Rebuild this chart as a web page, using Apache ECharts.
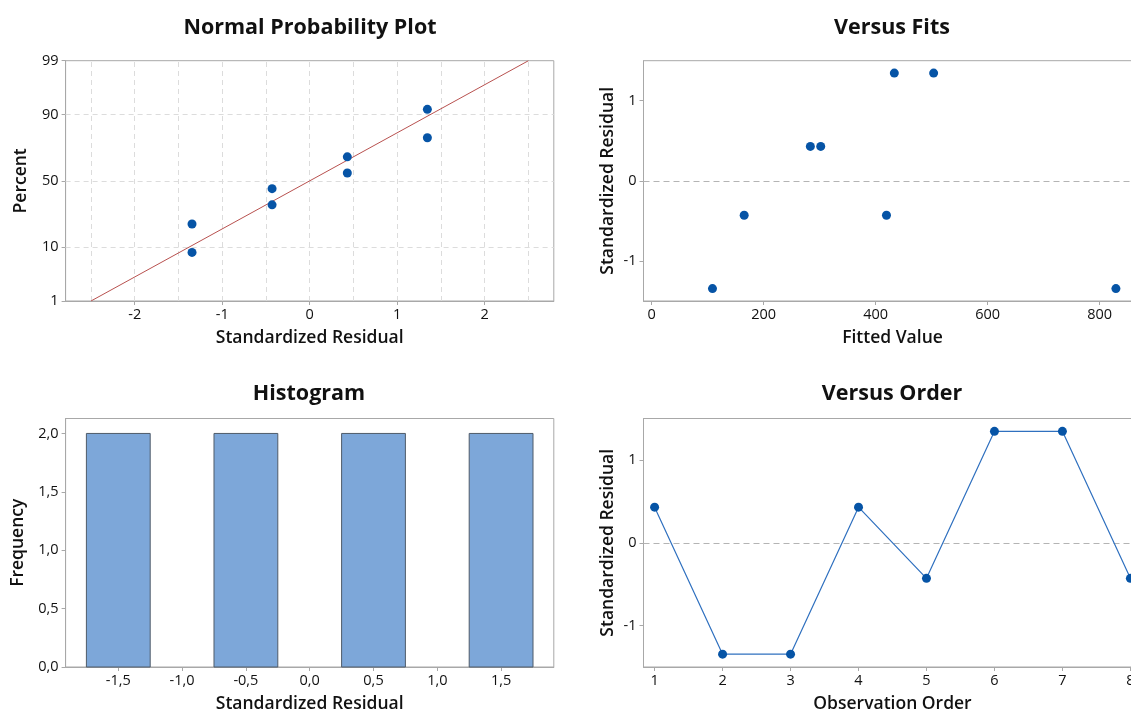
<!DOCTYPE html>
<html>
<head>
<meta charset="utf-8">
<script src="https://cdn.jsdelivr.net/npm/echarts@6/dist/echarts.min.js"></script>
<style>
html,body{margin:0;padding:0;background:#fff;overflow:hidden;width:1131px;height:714px;}
#chart{width:1165px;height:714px;}
</style>
</head>
<body>
<div id="chart"></div>
<script>
// ---------- data ----------
const observationOrder = [1, 2, 3, 4, 5, 6, 7, 8];
const residuals = [0.43, -1.345, -1.345, 0.43, -0.43, 1.345, 1.345, -0.43];
const fittedValues = [283.4, 108.6, 829.0, 301.9, 165.2, 433.3, 503.5, 419.3];

const probResiduals = [-1.345, -1.345, -0.43, -0.43, 0.43, 0.43, 1.345, 1.345];
const probPercents = [8.3, 20.2, 32.1, 44.0, 56.0, 67.9, 79.8, 91.7];
const fitLineResiduals = [-2.5, 2.5];
const fitLinePercents = [1, 99];

const histBinCenters = [-1.5, -1.0, -0.5, 0.0, 0.5, 1.0, 1.5];
const histCounts = [2, 0, 2, 0, 2, 0, 2];
const histBinWidth = 0.5;

// tick labels / grid lines
const nppXTicks = [-2, -1, 0, 1, 2];
const nppXGrid = [-2.5, -2, -1.5, -1, -0.5, 0, 0.5, 1, 1.5, 2, 2.5];
const percentTicks = [1, 10, 50, 90, 99];
const percentGrid = [10, 50, 90];
const fitsXTicks = [0, 200, 400, 600, 800];
const residTicks = [-1, 0, 1];
const histXTicks = [-1.5, -1.0, -0.5, 0.0, 0.5, 1.0, 1.5];
const histYTicks = [0, 0.5, 1.0, 1.5, 2.0];
const orderTicks = [1, 2, 3, 4, 5, 6, 7, 8];

// ---------- normal probability scale ----------
function qnorm(p) {
  const a=[-3.969683028665376e+01,2.209460984245205e+02,-2.759285104469687e+02,1.383577518672690e+02,-3.066479806614716e+01,2.506628277459239e+00];
  const b=[-5.447609879822406e+01,1.615858368580409e+02,-1.556989798598866e+02,6.680131188771972e+01,-1.328068155288572e+01];
  const c=[-7.784894002430293e-03,-3.223964580411365e-01,-2.400758296180111e+00,-2.549732539343734e+00,4.374664141464968e+00,2.938163982698783e+00];
  const d=[7.784695709041462e-03,3.224671290700398e-01,2.445134137142996e+00,3.754408661907416e+00];
  const pl=0.02425, ph=1-pl; let q, r;
  if (p < pl) { q=Math.sqrt(-2*Math.log(p)); return (((((c[0]*q+c[1])*q+c[2])*q+c[3])*q+c[4])*q+c[5])/((((d[0]*q+d[1])*q+d[2])*q+d[3])*q+1); }
  if (p <= ph) { q=p-0.5; r=q*q; return (((((a[0]*r+a[1])*r+a[2])*r+a[3])*r+a[4])*r+a[5])*q/(((((b[0]*r+b[1])*r+b[2])*r+b[3])*r+b[4])*r+1); }
  q=Math.sqrt(-2*Math.log(1-p)); return -(((((c[0]*q+c[1])*q+c[2])*q+c[3])*q+c[4])*q+c[5])/((((d[0]*q+d[1])*q+d[2])*q+d[3])*q+1);
}
const zOf = pct => qnorm(pct / 100);

// ---------- styling ----------
const FONT = 'Open Sans';
const AXC = '#a8a8a8';
const PT = '#0654a6';
const comma1 = v => v.toFixed(1).replace('.', ',');

function axis(gridIndex, min, max, ticks, formatter, name, gap, isY) {
  return {
    type: 'value', gridIndex, min, max, scale: true,
    name, nameLocation: 'middle', nameGap: gap,
    nameTextStyle: { fontFamily: FONT, fontSize: 17.5, fontWeight: 600, color: '#111' },
    axisLine: { show: true, onZero: false, lineStyle: { color: AXC, width: 1 } },
    axisTick: { show: true, length: 4, customValues: ticks, lineStyle: { color: AXC } },
    axisLabel: { show: true, customValues: ticks, formatter, margin: isY ? 7 : 6,
      fontFamily: FONT, fontSize: 14.5, color: '#111' },
    splitLine: { show: false }
  };
}

const gridBase = { show: true, borderColor: AXC, borderWidth: 1, backgroundColor: 'transparent', containLabel: false };

const zTicks = percentTicks.map(zOf);
const zLabel = v => {
  let best = 0, bd = 1e9;
  zTicks.forEach((z, i) => { const dd = Math.abs(z - v); if (dd < bd) { bd = dd; best = i; } });
  return String(percentTicks[best]);
};

const titleStyle = { fontFamily: FONT, fontSize: 21.5, fontWeight: 'bold', fill: '#111', align: 'center', verticalAlign: 'middle' };

const option = {
  animation: false,
  backgroundColor: '#fff',
  textStyle: { fontFamily: FONT },
  graphic: [
    { type: 'text', x: 310, y: 28, style: Object.assign({ text: 'Normal Probability Plot' }, titleStyle) },
    { type: 'text', x: 892, y: 28, style: Object.assign({ text: 'Versus Fits' }, titleStyle) },
    { type: 'text', x: 309, y: 394, style: Object.assign({ text: 'Histogram' }, titleStyle) },
    { type: 'text', x: 892, y: 394, style: Object.assign({ text: 'Versus Order' }, titleStyle) }
  ],
  grid: [
    Object.assign({ left: 65.6, top: 60.7, width: 488.2, height: 240.3 }, gridBase),
    Object.assign({ left: 643.5, top: 60.7, width: 498, height: 240.3 }, gridBase),
    Object.assign({ left: 65.6, top: 418.5, width: 488.2, height: 249.2 }, gridBase),
    Object.assign({ left: 643.5, top: 418.5, width: 498, height: 249.2 }, gridBase)
  ],
  xAxis: [
    axis(0, -2.79, 2.79, nppXTicks, v => String(v), 'Standardized Residual', 28, false),
    axis(1, -14.6, 874.7, fitsXTicks, v => String(v), 'Fitted Value', 28, false),
    axis(2, -1.913, 1.913, histXTicks, comma1, 'Standardized Residual', 28, false),
    axis(3, 0.8365, 8.1635, orderTicks, v => String(v), 'Observation Order', 28, false)
  ],
  yAxis: [
    axis(0, zOf(1), zOf(99), zTicks, zLabel, 'Percent', 36, true),
    axis(1, -1.5, 1.5, residTicks, v => String(v), 'Standardized Residual', 26, true),
    axis(2, 0, 2.128, histYTicks, comma1, 'Frequency', 39, true),
    axis(3, -1.5, 1.5, residTicks, v => String(v), 'Standardized Residual', 26, true)
  ],
  series: [
    {
      type: 'line', xAxisIndex: 0, yAxisIndex: 0, z: 2, silent: true,
      data: fitLineResiduals.map((r, i) => [r, zOf(fitLinePercents[i])]),
      symbol: 'none', lineStyle: { color: '#b8514f', width: 1 },
      markLine: {
        silent: true, symbol: 'none', z: 1, label: { show: false },
        lineStyle: { color: '#dcdcdc', type: [5, 4], width: 1 },
        data: nppXGrid.map(v => ({ xAxis: v })).concat(percentGrid.map(p => ({ yAxis: zOf(p) })))
      }
    },
    {
      type: 'scatter', xAxisIndex: 0, yAxisIndex: 0, z: 3,
      data: probResiduals.map((r, i) => [r, zOf(probPercents[i])]),
      symbol: 'circle', symbolSize: 9, itemStyle: { color: PT, opacity: 1 }
    },
    {
      type: 'scatter', xAxisIndex: 1, yAxisIndex: 1, z: 3,
      data: fittedValues.map((f, i) => [f, residuals[i]]),
      symbol: 'circle', symbolSize: 9, itemStyle: { color: PT, opacity: 1 },
      markLine: {
        silent: true, symbol: 'none', label: { show: false },
        lineStyle: { color: '#b4b4b4', type: [6, 4], width: 1.2 },
        data: [{ yAxis: 0 }]
      }
    },
    {
      type: 'custom', xAxisIndex: 2, yAxisIndex: 2, z: 2,
      data: histBinCenters.map((c, i) => [c - histBinWidth / 2, c + histBinWidth / 2, histCounts[i]]),
      renderItem: function (params, api) {
        const cnt = api.value(2);
        if (!cnt) return null;
        const p0 = api.coord([api.value(0), 0]);
        const p1 = api.coord([api.value(1), cnt]);
        return {
          type: 'rect',
          shape: { x: p0[0], y: p1[1], width: p1[0] - p0[0], height: p0[1] - p1[1] },
          style: { fill: '#7da7d9', stroke: '#4f5b69', lineWidth: 1 }
        };
      },
      encode: { x: [0, 1], y: 2 }
    },
    {
      type: 'line', xAxisIndex: 3, yAxisIndex: 3, z: 3,
      data: observationOrder.map((o, i) => [o, residuals[i]]),
      symbol: 'circle', symbolSize: 9, showSymbol: true,
      lineStyle: { color: '#2f70bf', width: 1.2 }, itemStyle: { color: PT, opacity: 1 },
      markLine: {
        silent: true, symbol: 'none', label: { show: false }, z: 1,
        lineStyle: { color: '#b4b4b4', type: [6, 4], width: 1.2 },
        data: [{ yAxis: 0 }]
      }
    }
  ]
};

const chart = echarts.init(document.getElementById('chart'), null, { renderer: 'canvas' });
chart.setOption(option);
</script>
</body>
</html>
